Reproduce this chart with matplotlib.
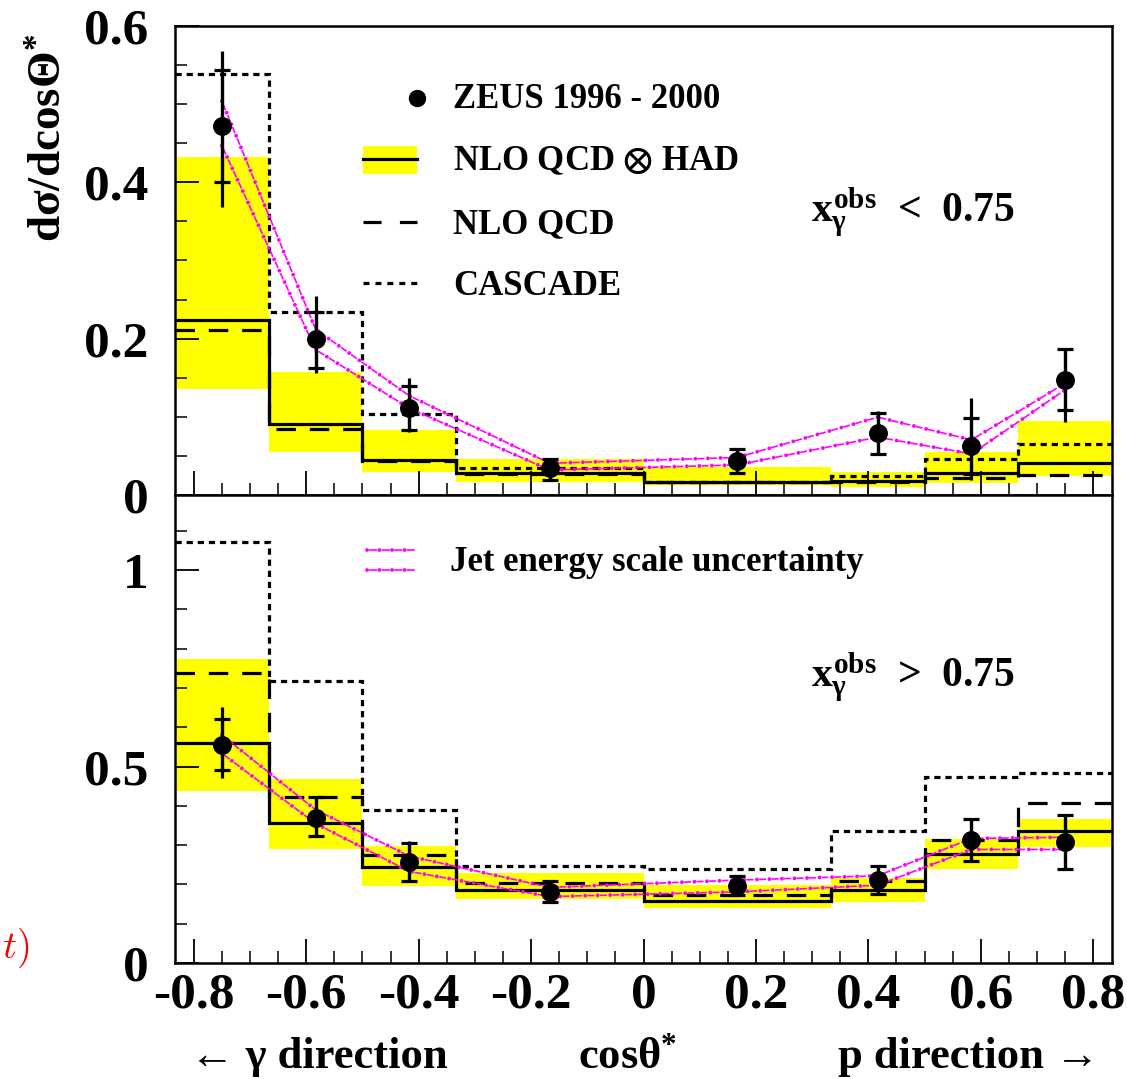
import matplotlib
matplotlib.use("Agg")
import matplotlib.pyplot as plt
import numpy as np
from matplotlib.lines import Line2D
from matplotlib.patches import Rectangle
from matplotlib.ticker import MultipleLocator

plt.rcParams['font.family'] = ['Liberation Serif', 'DejaVu Sans']
plt.rcParams['font.weight'] = 'bold'
plt.rcParams['mathtext.fontset'] = 'custom'
plt.rcParams['mathtext.rm'] = 'Liberation Serif:bold'
plt.rcParams['mathtext.it'] = 'Liberation Serif:bold'
plt.rcParams['mathtext.bf'] = 'Liberation Serif:bold'
plt.rcParams['mathtext.fallback'] = 'stix'
plt.rcParams['lines.scale_dashes'] = False

# ---------------- data ----------------
edges = [-5/6, -4/6, -3/6, -2/6, 0.0, 2/6, 3/6, 4/6, 5/6]
centers = [-0.75, -0.5833, -0.4167, -0.1667, 0.1667, 0.4167, 0.5833, 0.75]

x_ticks = [-0.8, -0.6, -0.4, -0.2, 0.0, 0.2, 0.4, 0.6, 0.8]
x_tick_labels = ["-0.8", "-0.6", "-0.4", "-0.2", "0", "0.2", "0.4", "0.6", "0.8"]
top_y_ticks = [0.0, 0.2, 0.4, 0.6]
top_y_labels = ["0", "0.2", "0.4", "0.6"]
bot_y_ticks = [0.0, 0.5, 1.0]
bot_y_labels = ["0", "0.5", "1"]

# top panel: x_gamma^obs < 0.75
top_data = [0.472, 0.199, 0.111, 0.035, 0.044, 0.079, 0.063, 0.147]
top_stat_up = [0.072, 0.035, 0.028, 0.011, 0.015, 0.026, 0.036, 0.040]
top_stat_dn = [0.072, 0.036, 0.028, 0.016, 0.016, 0.026, 0.036, 0.038]
top_tot_up = [0.096, 0.055, 0.039, 0.011, 0.015, 0.028, 0.061, 0.041]
top_tot_dn = [0.104, 0.043, 0.030, 0.016, 0.016, 0.026, 0.044, 0.053]
top_nlo_had = [0.2235, 0.0906, 0.0449, 0.0286, 0.0170, 0.0180, 0.0286, 0.0406]
top_nlo = [0.211, 0.084, 0.043, 0.027, 0.0165, 0.017, 0.0214, 0.0256]
top_cascade = [0.538, 0.234, 0.104, 0.034, 0.016, 0.0243, 0.0457, 0.065]
top_band_lo = [0.136, 0.0556, 0.030, 0.017, 0.0128, 0.0098, 0.0158, 0.0248]
top_band_hi = [0.432, 0.157, 0.083, 0.046, 0.036, 0.030, 0.0556, 0.095]
top_jes_up = [0.504, 0.212, 0.127, 0.0406, 0.048, 0.0996, 0.0705, 0.143]
top_jes_dn = [0.447, 0.186, 0.111, 0.032, 0.0385, 0.074, 0.0526, 0.1346]

# bottom panel: x_gamma^obs > 0.75
bot_data = [0.556, 0.370, 0.256, 0.181, 0.196, 0.211, 0.313, 0.307]
bot_stat_up = [0.066, 0.052, 0.050, 0.028, 0.025, 0.037, 0.053, 0.070]
bot_stat_dn = [0.066, 0.047, 0.047, 0.025, 0.023, 0.035, 0.053, 0.068]
bot_tot_up = [0.095, 0.052, 0.054, 0.028, 0.025, 0.037, 0.053, 0.070]
bot_tot_dn = [0.084, 0.047, 0.047, 0.025, 0.023, 0.035, 0.053, 0.068]
bot_nlo_had = [0.5606, 0.3554, 0.2435, 0.1857, 0.1586, 0.1857, 0.2765, 0.336]
bot_nlo = [0.737, 0.423, 0.2748, 0.204, 0.173, 0.2087, 0.313, 0.406]
bot_cascade = [1.072, 0.718, 0.389, 0.2476, 0.239, 0.336, 0.4725, 0.484]
bot_band_lo = [0.4385, 0.290, 0.1967, 0.162, 0.139, 0.156, 0.239, 0.296]
bot_band_hi = [0.7735, 0.4674, 0.2977, 0.228, 0.1985, 0.2155, 0.3147, 0.3656]
bot_jes_up = [0.58, 0.39, 0.272, 0.1925, 0.211, 0.222, 0.317, 0.320]
bot_jes_dn = [0.5335, 0.355, 0.233, 0.169, 0.181, 0.198, 0.289, 0.289]

# ---------------- layout ----------------
W, H = 1127, 1079
def fx(p):
    return p / W
def fy(p):
    return 1 - p / H

fig = plt.figure(figsize=(W / 100, H / 100), dpi=100)
ax1 = fig.add_axes([fx(175), fy(495), (1112 - 175) / W, (495 - 26) / H])
ax2 = fig.add_axes([fx(175), fy(963), (1112 - 175) / W, (963 - 495) / H])

YEL = '#ffff00'
MAG = '#ff00ff'
LW = 2.3
DASH = (0, (14, 10))
DOT = (0, (4.5, 3.5))


def magenta_line(ax, xs, ys):
    ax.plot(xs, ys, color=MAG, lw=1.2, linestyle=(7, (5, 4)), zorder=4)
    ax.plot(xs, ys, color=MAG, lw=2.8, linestyle=(0, (0.01, 9)),
            dash_capstyle='round', zorder=4)


def draw_panel(ax, band_lo, band_hi, had, nlo, cas, jup, jdn, val, sup, sdn, tup, tdn):
    band_lo = np.array(band_lo)
    band_hi = np.array(band_hi)
    ax.bar(edges[:-1], band_hi - band_lo, bottom=band_lo, width=np.diff(edges),
           align='edge', color=YEL, lw=0, zorder=1)
    ax.stairs(had, edges, baseline=None, color='k', lw=LW, zorder=3)
    ax.stairs(nlo, edges, baseline=None, color='k', lw=LW, linestyle=DASH, zorder=3)
    ax.stairs(cas, edges, baseline=None, color='k', lw=LW, linestyle=DOT, zorder=3)
    magenta_line(ax, centers, jup)
    magenta_line(ax, centers, jdn)
    ax.errorbar(centers, val, yerr=[tdn, tup], fmt='none', ecolor='k',
                elinewidth=LW, capsize=0, zorder=5)
    ax.errorbar(centers, val, yerr=[sdn, sup], fmt='o', color='k', ms=12.6,
                elinewidth=LW, capsize=6, capthick=LW, zorder=6)


draw_panel(ax1, top_band_lo, top_band_hi, top_nlo_had, top_nlo, top_cascade,
           top_jes_up, top_jes_dn, top_data, top_stat_up, top_stat_dn, top_tot_up, top_tot_dn)
draw_panel(ax2, bot_band_lo, bot_band_hi, bot_nlo_had, bot_nlo, bot_cascade,
           bot_jes_up, bot_jes_dn, bot_data, bot_stat_up, bot_stat_dn, bot_tot_up, bot_tot_dn)

for ax in (ax1, ax2):
    ax.set_xlim(edges[0], edges[-1])
    ax.set_xticks(x_ticks)
    ax.xaxis.set_minor_locator(MultipleLocator(0.05))
    ax.tick_params(which='major', direction='in', length=17, width=1.3,
                   top=False, right=False, labelsize=37)
    ax.tick_params(which='minor', direction='in', length=8.5, width=1.1,
                   top=False, right=False)
    ax.tick_params(axis='y', pad=19)
    ax.tick_params(axis='x', pad=7)
    for s in ax.spines.values():
        s.set_linewidth(1.8)

ax1.set_ylim(0, 0.6)
ax1.set_yticks(top_y_ticks)
ax1.set_yticklabels(top_y_labels)
ax1.yaxis.set_minor_locator(MultipleLocator(0.05))
ax1.tick_params(axis='x', labelbottom=False)

ax2.set_ylim(0, 1.191)
ax2.set_yticks(bot_y_ticks)
ax2.set_yticklabels(bot_y_labels)
ax2.yaxis.set_minor_locator(MultipleLocator(0.1))
ax2.set_xticklabels(x_tick_labels)

# ---------------- legends (manual, figure coordinates) ----------------
T = fig.transFigure
fig.add_artist(Line2D([fx(417)], [fy(97.7)], marker='o', ms=11.5, color='k', ls='none', transform=T))
fig.add_artist(Rectangle((fx(362.7), fy(174)), (416.7 - 362.7) / W, (174 - 146) / H,
                         color=YEL, lw=0, transform=T))
fig.add_artist(Line2D([fx(362.7), fx(416.7)], [fy(159.3)] * 2, color='k', lw=LW, transform=T))
fig.add_artist(Line2D([fx(363), fx(417)], [fy(221.7)] * 2, color='k', lw=LW,
                      ls=(0, (13, 13.2)), transform=T))
fig.add_artist(Line2D([fx(363), fx(417)], [fy(283.3)] * 2, color='k', lw=LW,
                      ls=(0, (4.3, 4.3)), transform=T))
for yy in (550, 570):
    for lw_, ls_ in ((1.2, (7, (5, 4))), (2.8, (0, (0.01, 9)))):
        fig.add_artist(Line2D([fx(367), fx(417)], [fy(yy)] * 2, color=MAG, lw=lw_, ls=ls_,
                              dash_capstyle='round', transform=T))

LEG_FS = 25
fig.text(fx(453), fy(108.3), "ZEUS 1996 - 2000", fontsize=LEG_FS, va='baseline')
fig.text(fx(453), fy(170.5), r"NLO QCD $\otimes$ HAD", fontsize=LEG_FS, va='baseline')
fig.text(fx(453), fy(233), "NLO QCD", fontsize=LEG_FS, va='baseline')
fig.text(fx(453), fy(295), "CASCADE", fontsize=LEG_FS, va='baseline')
fig.text(fx(450), fy(571), "Jet energy scale uncertainty", fontsize=LEG_FS, va='baseline')

fig.text(fx(811), fy(221.7), r"$x_{\gamma}^{obs}$  <  0.75", fontsize=30, va='baseline')
fig.text(fx(811), fy(686.7), r"$x_{\gamma}^{obs}$  >  0.75", fontsize=30, va='baseline')

# axis titles
fig.text(fx(51), fy(138), "d\u03c3/dcos\u0398$^{*}$", fontsize=34, rotation=90,
         ha='center', va='center')
fig.text(fx(190), fy(1068), "\u2190 \u03b3 direction", fontsize=32, va='baseline')
fig.text(fx(628), fy(1068), "cos\u03b8$^{*}$", fontsize=32, ha='center', va='baseline')
fig.text(fx(1100), fy(1068), "p direction \u2192", fontsize=32, ha='right', va='baseline')

fig.text(fx(2), fy(958), r"$t)$", color='red', fontsize=28, math_fontfamily='cm', va='baseline')

fig.savefig("out.png", dpi=100)
